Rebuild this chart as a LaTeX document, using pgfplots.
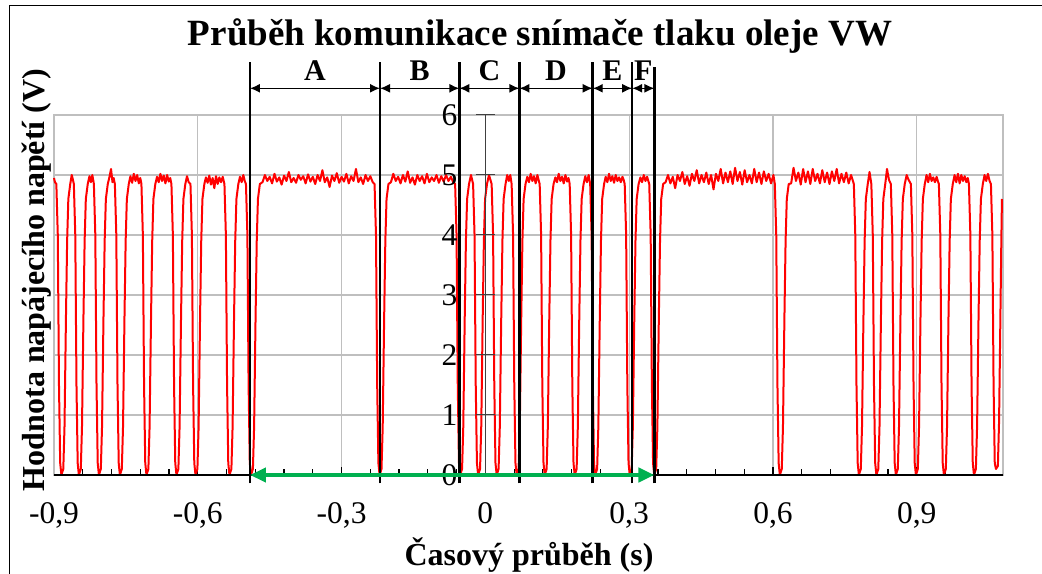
\documentclass[border=0pt]{standalone}
\usepackage{fontspec}
\setmainfont{Liberation Serif}
\usepackage{pgfplots}
\pgfplotsset{compat=1.18}
\usetikzlibrary{arrows.meta}
\definecolor{sigred}{RGB}{255,0,0}
\definecolor{arrgreen}{RGB}{0,176,80}
\definecolor{gridgray}{RGB}{191,191,191}
\begin{document}
\begin{tikzpicture}
\useasboundingbox (0,0) rectangle (1042bp,574bp);
\draw[black, line width=1bp] (1042bp,568bp) -- (9bp,568bp) -- (9bp,0bp);
\begin{axis}[
  at={(54bp,99bp)}, anchor=south west,
  scale only axis, width=949bp, height=360bp,
  xmin=-0.9, xmax=1.08, ymin=0, ymax=6,
  clip=false,
  axis line style={gridgray, line width=1.5bp},
  xtick={-0.9,-0.6,-0.3,0,0.3,0.6,0.9},
  xticklabels={{-0,9},{-0,6},{-0,3},{0},{0,3},{0,6},{0,9}},
  minor xtick={-0.84,-0.78,-0.72,-0.66,-0.54,-0.48,-0.42,-0.36,-0.24,-0.18,-0.12,-0.06,0.06,0.12,0.18,0.24,0.36,0.42,0.48,0.54,0.66,0.72,0.78,0.84,0.96,1.02},
  xtick pos=bottom, xtick align=inside,
  major tick length=8bp, minor tick length=6bp,
  xtick style={black, line width=1.2bp},
  ytick={0,1,2,3,4,5,6}, yticklabels={}, ytick style={draw=none},
  xmajorgrids, ymajorgrids, major grid style={gridgray, line width=1.2bp},
  xticklabel style={font=\fontsize{31.5bp}{36bp}\selectfont, anchor=base, yshift=-48bp},
  title={Průběh komunikace snímače tlaku oleje VW},
  every axis title/.style={at={(axis description cs:0.5121,1.1944)}, anchor=base, font=\bfseries\fontsize{37bp}{44bp}\selectfont},
  xlabel={Časový průběh (s)},
  every axis x label/.style={at={(axis description cs:0.5005,-0.25)}, anchor=base, font=\bfseries\fontsize{32bp}{38bp}\selectfont},
  ylabel={Hodnota napájecího napětí (V)},
  every axis y label/.style={at={(axis description cs:-0.0095,0.5417)}, anchor=base, rotate=90, font=\bfseries\fontsize{32bp}{38bp}\selectfont},
]
\addplot[sigred, line width=2bp, line join=round, no marks] coordinates {
(-0.9000,4.95) (-0.8980,4.88)
(-0.8951,4.85) (-0.8921,4.0) (-0.8896,1.5) (-0.8871,0.2) (-0.8846,0.0) (-0.8806,0.1) (-0.8781,0.8) (-0.8751,2.6) (-0.8726,3.9) (-0.8701,4.6) (-0.8661,4.85)
(-0.8630,5.0) (-0.8605,4.92)
(-0.8586,4.85) (-0.8556,4.0) (-0.8531,1.5) (-0.8506,0.2) (-0.8481,0.0) (-0.8441,0.1) (-0.8416,0.8) (-0.8386,2.6) (-0.8361,3.9) (-0.8336,4.6) (-0.8296,4.85)
(-0.8260,4.98) (-0.8230,4.88) (-0.8200,5.0)
(-0.8168,4.85) (-0.8138,4.0) (-0.8113,1.5) (-0.8088,0.2) (-0.8063,0.0) (-0.8023,0.1) (-0.7998,0.8) (-0.7968,2.6) (-0.7943,3.9) (-0.7918,4.6) (-0.7878,4.85)
(-0.7845,4.96) (-0.7810,5.1) (-0.7780,4.88) (-0.7755,4.95)
(-0.7730,4.85) (-0.7700,4.0) (-0.7675,1.5) (-0.7650,0.2) (-0.7625,0.0) (-0.7585,0.1) (-0.7560,0.8) (-0.7530,2.6) (-0.7505,3.9) (-0.7480,4.6) (-0.7440,4.85)
(-0.7405,4.98) (-0.7370,4.87) (-0.7335,5.02) (-0.7300,4.9) (-0.7265,5.0) (-0.7230,4.86) (-0.7200,4.95)
(-0.7176,4.85) (-0.7146,4.0) (-0.7121,1.5) (-0.7096,0.2) (-0.7071,0.0) (-0.7031,0.1) (-0.7006,0.8) (-0.6976,2.6) (-0.6951,3.9) (-0.6926,4.6) (-0.6886,4.85)
(-0.6850,4.97) (-0.6815,4.88) (-0.6780,5.02) (-0.6745,4.9) (-0.6710,4.99) (-0.6675,4.86) (-0.6640,5.0) (-0.6605,4.89) (-0.6575,4.95)
(-0.6550,4.85) (-0.6520,4.0) (-0.6495,1.5) (-0.6470,0.2) (-0.6445,0.0) (-0.6405,0.1) (-0.6380,0.8) (-0.6350,2.6) (-0.6325,3.9) (-0.6300,4.6) (-0.6260,4.85)
(-0.6225,4.98) (-0.6190,4.88)
(-0.6153,4.85) (-0.6123,4.0) (-0.6098,1.5) (-0.6073,0.2) (-0.6048,0.0) (-0.6008,0.1) (-0.5983,0.8) (-0.5953,2.6) (-0.5928,3.9) (-0.5903,4.6) (-0.5863,4.85)
(-0.5830,4.96) (-0.5795,4.87) (-0.5760,4.99) (-0.5725,4.84) (-0.5690,4.95) (-0.5655,4.78) (-0.5620,4.98) (-0.5585,4.85) (-0.5550,4.96) (-0.5515,4.88) (-0.5480,4.97)
(-0.5444,4.85) (-0.5414,4.0) (-0.5389,1.5) (-0.5364,0.2) (-0.5339,0.0) (-0.5299,0.1) (-0.5274,0.8) (-0.5244,2.6) (-0.5219,3.9) (-0.5194,4.6) (-0.5154,4.85)
(-0.5120,4.97) (-0.5085,4.88) (-0.5050,5.0) (-0.5020,4.9)
(-0.4995,4.85) (-0.4965,4.0) (-0.4940,1.5) (-0.4915,0.2) (-0.4890,0.0) (-0.4850,0.1) (-0.4825,0.8) (-0.4795,2.6) (-0.4770,3.9) (-0.4745,4.6) (-0.4705,4.85)
(-0.4650,4.88) (-0.4600,5.0) (-0.4550,4.9) (-0.4500,4.97) (-0.4450,4.86) (-0.4400,5.02) (-0.4350,4.89) (-0.4300,4.96) (-0.4250,4.84) (-0.4200,4.99)
(-0.4150,4.9) (-0.4100,5.05) (-0.4050,4.88) (-0.4000,4.95) (-0.3950,4.87) (-0.3900,5.0) (-0.3850,4.92) (-0.3800,4.98) (-0.3750,4.86) (-0.3700,5.01)
(-0.3650,4.89) (-0.3600,4.97) (-0.3550,4.85) (-0.3500,5.0) (-0.3450,4.9) (-0.3400,5.08) (-0.3350,4.88) (-0.3300,4.96) (-0.3250,4.8) (-0.3200,4.99)
(-0.3150,4.9) (-0.3100,5.03) (-0.3050,4.87) (-0.3000,4.97) (-0.2950,4.89) (-0.2900,5.02) (-0.2850,4.86) (-0.2800,4.98) (-0.2750,4.9) (-0.2700,5.1)
(-0.2650,4.88) (-0.2600,4.96) (-0.2550,4.85) (-0.2500,5.0) (-0.2450,4.9) (-0.2400,4.98) (-0.2350,4.88)
(-0.2312,4.85) (-0.2282,4.0) (-0.2257,1.5) (-0.2232,0.2) (-0.2207,0.0) (-0.2167,0.1) (-0.2142,0.8) (-0.2112,2.6) (-0.2087,3.9) (-0.2062,4.6) (-0.2022,4.85)
(-0.1970,4.88) (-0.1920,5.02) (-0.1870,4.9) (-0.1820,4.97) (-0.1770,4.86) (-0.1720,5.0) (-0.1670,4.89) (-0.1620,5.06) (-0.1570,4.87) (-0.1520,4.96)
(-0.1470,4.84) (-0.1420,5.0) (-0.1370,4.9) (-0.1320,4.98) (-0.1270,4.86) (-0.1220,5.02) (-0.1170,4.88) (-0.1120,4.96) (-0.1070,4.9) (-0.1020,5.0)
(-0.0970,4.87) (-0.0920,4.98) (-0.0870,4.89) (-0.0820,5.0) (-0.0770,4.9) (-0.0720,4.97) (-0.0670,4.88)
(-0.0631,4.85) (-0.0601,4.0) (-0.0576,1.5) (-0.0551,0.2) (-0.0526,0.0) (-0.0486,0.1) (-0.0461,0.8) (-0.0431,2.6) (-0.0406,3.9) (-0.0381,4.6) (-0.0341,4.85)
(-0.0300,5.0)
(-0.0256,4.85) (-0.0226,4.0) (-0.0201,1.5) (-0.0176,0.2) (-0.0151,0.0) (-0.0111,0.1) (-0.0086,0.8) (-0.0056,2.6) (-0.0031,3.9) (-0.0006,4.6) (0.0034,4.85)
(0.0075,5.0) (0.0105,4.92)
(0.0131,4.85) (0.0161,4.0) (0.0186,1.5) (0.0211,0.2) (0.0236,0.0) (0.0276,0.1) (0.0301,0.8) (0.0331,2.6) (0.0356,3.9) (0.0381,4.6) (0.0421,4.85)
(0.0455,5.0) (0.0490,4.9) (0.0520,5.0)
(0.0548,4.85) (0.0578,4.0) (0.0603,1.5) (0.0628,0.2) (0.0653,0.0) (0.0693,0.1) (0.0718,0.8) (0.0748,2.6) (0.0773,3.9) (0.0798,4.6) (0.0838,4.85)
(0.0875,4.97) (0.0910,4.88) (0.0945,5.02) (0.0980,4.9) (0.1015,4.98) (0.1050,4.86) (0.1085,5.0) (0.1110,4.92)
(0.1133,4.85) (0.1163,4.0) (0.1188,1.5) (0.1213,0.2) (0.1238,0.0) (0.1278,0.1) (0.1303,0.8) (0.1333,2.6) (0.1358,3.9) (0.1383,4.6) (0.1423,4.85)
(0.1460,4.96) (0.1495,4.88) (0.1530,5.02) (0.1565,4.9) (0.1600,4.97) (0.1635,4.86) (0.1670,5.0) (0.1705,4.89) (0.1735,4.95)
(0.1759,4.85) (0.1789,4.0) (0.1814,1.5) (0.1839,0.2) (0.1864,0.0) (0.1904,0.1) (0.1929,0.8) (0.1959,2.6) (0.1984,3.9) (0.2009,4.6) (0.2049,4.85)
(0.2085,4.98) (0.2120,4.88) (0.2155,5.0)
(0.2187,4.85) (0.2217,4.0) (0.2242,1.5) (0.2267,0.2) (0.2292,0.0) (0.2332,0.1) (0.2357,0.8) (0.2387,2.6) (0.2412,3.9) (0.2437,4.6) (0.2477,4.85)
(0.2510,4.97) (0.2545,4.88) (0.2580,5.02) (0.2615,4.9) (0.2650,4.98) (0.2685,4.87) (0.2720,5.0) (0.2755,4.9) (0.2790,4.96) (0.2825,4.88) (0.2860,4.97) (0.2885,4.92)
(0.2907,4.85) (0.2937,4.0) (0.2962,1.5) (0.2987,0.2) (0.3012,0.0) (0.3052,0.1) (0.3077,0.8) (0.3107,2.6) (0.3132,3.9) (0.3157,4.6) (0.3197,4.85)
(0.3235,4.96) (0.3270,4.88) (0.3305,5.0) (0.3340,4.9) (0.3375,4.97) (0.3400,4.9)
(0.3419,4.85) (0.3449,4.0) (0.3474,1.5) (0.3499,0.2) (0.3524,0.0) (0.3564,0.1) (0.3589,0.8) (0.3619,2.6) (0.3644,3.9) (0.3669,4.6) (0.3709,4.85)
(0.3760,4.88) (0.3810,5.0) (0.3860,4.86) (0.3910,4.97) (0.3960,4.78) (0.4010,5.0) (0.4060,4.9) (0.4110,5.05) (0.4160,4.85) (0.4210,4.98)
(0.4260,4.82) (0.4310,5.02) (0.4360,4.9) (0.4410,5.08) (0.4460,4.86) (0.4510,5.0) (0.4560,4.88) (0.4610,5.04) (0.4660,4.85) (0.4710,5.0)
(0.4760,4.76) (0.4810,5.02) (0.4860,4.9) (0.4910,5.1) (0.4960,4.86) (0.5010,5.04) (0.5060,4.88) (0.5110,5.06) (0.5160,4.85) (0.5210,5.12)
(0.5260,4.9) (0.5310,5.05) (0.5360,4.84) (0.5410,5.08) (0.5460,4.88) (0.5510,5.0) (0.5560,4.86) (0.5610,5.1) (0.5660,4.88) (0.5710,5.04)
(0.5760,4.85) (0.5810,5.06) (0.5860,4.9) (0.5910,5.02) (0.5960,4.86) (0.6010,5.0)
(0.6039,4.85) (0.6069,4.0) (0.6094,1.5) (0.6119,0.2) (0.6144,0.0) (0.6184,0.1) (0.6209,0.8) (0.6239,2.6) (0.6264,3.9) (0.6289,4.6) (0.6329,4.85)
(0.6380,4.86) (0.6430,5.12) (0.6480,4.9) (0.6530,5.04) (0.6580,4.84) (0.6630,5.1) (0.6680,4.88) (0.6730,5.06) (0.6780,4.85) (0.6830,5.1)
(0.6880,4.9) (0.6930,5.02) (0.6980,4.86) (0.7030,5.08) (0.7080,4.88) (0.7130,5.04) (0.7180,4.85) (0.7230,5.06) (0.7280,4.9) (0.7330,5.1)
(0.7380,4.86) (0.7430,5.02) (0.7480,4.88) (0.7530,5.04) (0.7580,4.86) (0.7630,5.0)
(0.7688,4.85) (0.7718,4.0) (0.7743,1.5) (0.7768,0.2) (0.7793,0.0) (0.7833,0.1) (0.7858,0.8) (0.7888,2.6) (0.7913,3.9) (0.7938,4.6) (0.7978,4.85)
(0.8015,5.05)
(0.8053,4.85) (0.8083,4.0) (0.8108,1.5) (0.8133,0.2) (0.8158,0.0) (0.8198,0.1) (0.8223,0.8) (0.8253,2.6) (0.8278,3.9) (0.8303,4.6) (0.8343,4.85)
(0.8380,5.1) (0.8420,4.92)
(0.8460,4.85) (0.8490,4.0) (0.8515,1.5) (0.8540,0.2) (0.8565,0.0) (0.8605,0.1) (0.8630,0.8) (0.8660,2.6) (0.8685,3.9) (0.8710,4.6) (0.8750,4.85)
(0.8790,5.0) (0.8830,4.92)
(0.8878,4.85) (0.8908,4.0) (0.8933,1.5) (0.8958,0.2) (0.8983,0.0) (0.9023,0.1) (0.9048,0.8) (0.9078,2.6) (0.9103,3.9) (0.9128,4.6) (0.9168,4.85)
(0.9205,5.0) (0.9240,4.88) (0.9275,5.02) (0.9310,4.9) (0.9345,4.96) (0.9380,4.88) (0.9415,4.97) (0.9440,4.9)
(0.9462,4.85) (0.9492,4.0) (0.9517,1.5) (0.9542,0.2) (0.9567,0.0) (0.9607,0.1) (0.9632,0.8) (0.9662,2.6) (0.9687,3.9) (0.9712,4.6) (0.9752,4.85)
(0.9790,5.0) (0.9825,4.88) (0.9860,5.02) (0.9895,4.86) (0.9930,5.0) (0.9965,4.9) (1.0000,4.98) (1.0035,4.88) (1.0065,4.95)
(1.0089,4.85) (1.0119,4.0) (1.0144,1.5) (1.0169,0.2) (1.0194,0.0) (1.0234,0.1) (1.0259,0.8) (1.0289,2.6) (1.0314,3.9) (1.0339,4.6) (1.0379,4.85)
(1.0415,5.0) (1.0450,4.9) (1.0485,5.02) (1.0520,4.9)
(1.0548,4.85) (1.0578,4.0) (1.0603,1.5) (1.0628,0.2) (1.0653,0.1) (1.0693,0.15) (1.0718,0.9) (1.0745,2.6) (1.0765,3.9) (1.0778,4.6)
};
\draw[black, line width=2bp] (rel axis cs:0,0) -- (rel axis cs:1,0);
\end{axis}
\begin{axis}[
  at={(54bp,99bp)}, anchor=south west,
  scale only axis, width=949bp, height=360bp,
  xmin=-0.9, xmax=1.08, ymin=0, ymax=6,
  clip=false,
  axis x line=none,
  axis y line=middle,
  every inner y axis line/.append style={-},
  every outer y axis line/.append style={-},
  y axis line style={-, black!75, line width=1bp},
  ytick={0,1,2,3,4,5,6}, yticklabels={0,1,2,3,4,5,6},
  ytick align=center, major tick length=19bp,
  ytick style={black!75, line width=1bp},
  yticklabel style={font=\fontsize{31.5bp}{36bp}\selectfont, anchor=east, xshift=-15bp},
]
\draw[black, line width=2.5bp] (axis cs:-0.4912,-0.138) -- (axis cs:-0.4912,6.883);
\draw[black, line width=2.5bp] (axis cs:-0.2198,-0.138) -- (axis cs:-0.2198,6.883);
\draw[black, line width=2.5bp] (axis cs:-0.0543,-0.138) -- (axis cs:-0.0543,6.883);
\draw[black, line width=2.5bp] (axis cs:0.0710,-0.138) -- (axis cs:0.0710,6.883);
\draw[black, line width=2.5bp] (axis cs:0.2240,-0.138) -- (axis cs:0.2240,6.883);
\draw[black, line width=2.5bp] (axis cs:0.3063,-0.138) -- (axis cs:0.3063,6.883);
\draw[black, line width=2.5bp] (axis cs:0.3528,-0.138) -- (axis cs:0.3528,6.80);
\tikzset{dimarr/.style={line width=1.4bp, {Latex[length=10bp,width=9bp]}-{Latex[length=10bp,width=9bp]}}}
\draw[dimarr] (axis cs:-0.4912,6.445) -- (axis cs:-0.2198,6.445);
\draw[dimarr] (axis cs:-0.2198,6.445) -- (axis cs:-0.0543,6.445);
\draw[dimarr] (axis cs:-0.0543,6.445) -- (axis cs:0.0710,6.445);
\draw[dimarr] (axis cs:0.0710,6.445) -- (axis cs:0.2240,6.445);
\draw[dimarr] (axis cs:0.2240,6.445) -- (axis cs:0.3063,6.445);
\draw[dimarr] (axis cs:0.3063,6.445) -- (axis cs:0.3528,6.445);
\tikzset{seglab/.style={anchor=base, inner sep=0pt, font=\bfseries\fontsize{30bp}{34bp}\selectfont}}
\node[seglab] at (axis cs:-0.3555,6.583) {A};
\node[seglab] at (axis cs:-0.1371,6.583) {B};
\node[seglab] at (axis cs:0.0084,6.583) {C};
\node[seglab] at (axis cs:0.1475,6.583) {D};
\node[seglab] at (axis cs:0.2652,6.583) {E};
\node[seglab] at (axis cs:0.3296,6.583) {F};
\draw[arrgreen, line width=4bp, {Triangle[length=16bp,width=14bp]}-{Triangle[length=16bp,width=14bp]}] (axis cs:-0.4912,0) -- (axis cs:0.3528,0);
\end{axis}
\end{tikzpicture}
\end{document}
